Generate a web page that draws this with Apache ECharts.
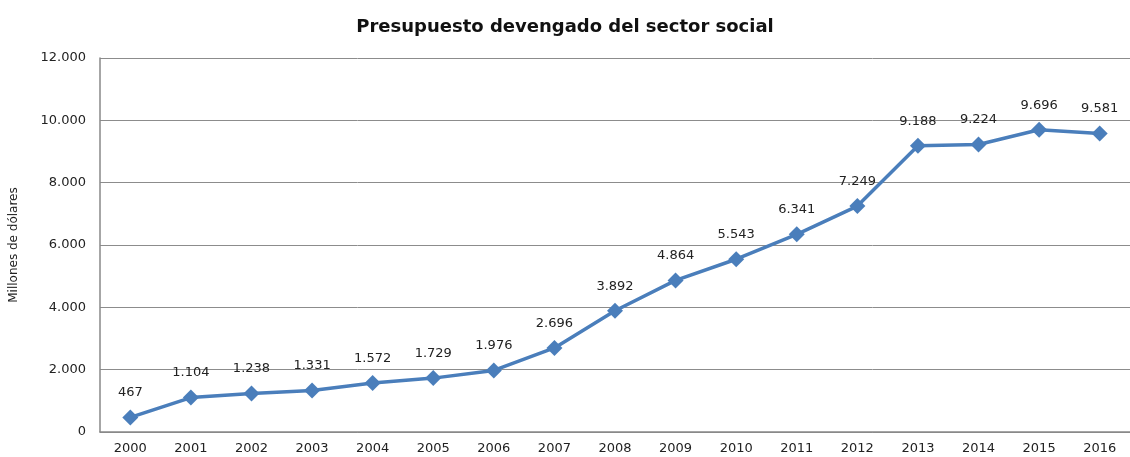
<!DOCTYPE html>
<html><head><meta charset="utf-8">
<script src="https://cdn.jsdelivr.net/npm/echarts@6/dist/echarts.min.js"></script>
<style>html,body{margin:0;padding:0;background:#fff}#c{width:1130px;height:457px}</style>
</head><body><div id="c"></div>
<script>
const categories = ['2000','2001','2002','2003','2004','2005','2006','2007','2008','2009','2010','2011','2012','2013','2014','2015','2016'];
const values = [467,1104,1238,1331,1572,1729,1976,2696,3892,4864,5543,6341,7249,9188,9224,9696,9581];
const fmt = v => v === 0 ? '0' : String(v).replace(/\B(?=(\d{3})+(?!\d))/g, '.');
const chart = echarts.init(document.getElementById('c'));
chart.setOption({
  animation: false,
  title: {text: 'Presupuesto devengado del sector social', left: 'center', top: 13,
    textStyle: {fontFamily: 'DejaVu Sans', fontSize: 18, fontWeight: 'bold', color: '#111'}},
  grid: {left: 100, right: 0, top: 58, bottom: 25},
  xAxis: {type: 'category', data: categories, boundaryGap: true,
    axisLine: {lineStyle: {color: '#888', width: 1.5}}, axisTick: {show: false},
    axisLabel: {fontFamily: 'DejaVu Sans', fontSize: 13, color: '#222', margin: 10}},
  yAxis: {type: 'value', min: 0, max: 12000, interval: 2000,
    name: 'Millones de dólares', nameLocation: 'middle', nameGap: 80, nameRotate: 90,
    nameTextStyle: {fontFamily: 'DejaVu Sans', fontSize: 12, color: '#222'},
    axisLine: {show: true, lineStyle: {color: '#888', width: 1.5}}, axisTick: {show: false},
    axisLabel: {fontFamily: 'DejaVu Sans', fontSize: 13, color: '#222', margin: 14, formatter: fmt},
    splitLine: {lineStyle: {color: '#8c8c8c', width: 1}}},
  series: [{type: 'line', data: values, symbol: 'diamond', symbolSize: 16,
    lineStyle: {color: '#4a7ebb', width: 3.5}, itemStyle: {color: '#4a7ebb'},
    label: {show: true, position: 'top', distance: 10, fontFamily: 'DejaVu Sans', fontSize: 13, color: '#222',
      formatter: p => fmt(p.value)}}]
});
</script></body></html>
